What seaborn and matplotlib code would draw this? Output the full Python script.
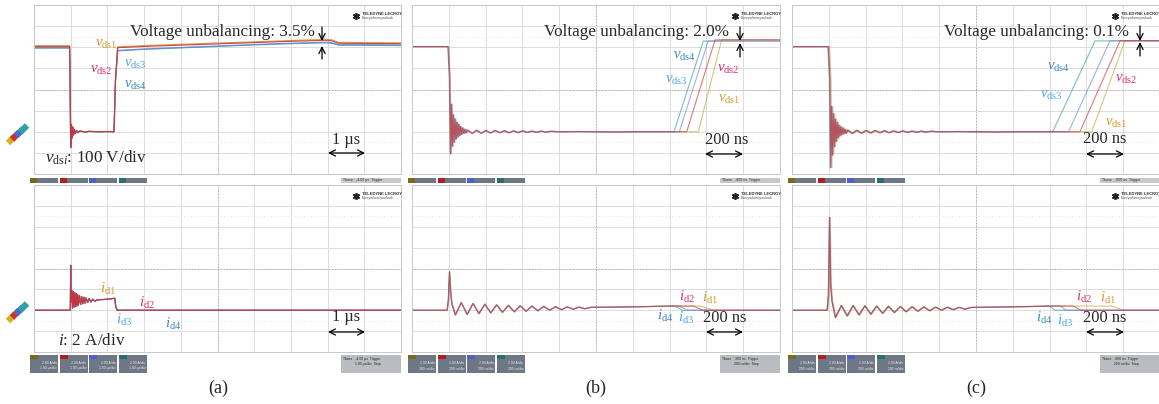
import numpy as np
import pandas as pd
import seaborn as sns
import matplotlib.pyplot as plt
from matplotlib.patches import Rectangle

sns.set_style('white')
plt.rcParams['font.family'] = ['Liberation Serif', 'DejaVu Serif']
plt.rcParams['mathtext.fontset'] = 'custom'
plt.rcParams['mathtext.rm'] = 'Liberation Serif'
plt.rcParams['mathtext.it'] = 'Liberation Serif:italic'
plt.rcParams['mathtext.bf'] = 'Liberation Serif:bold'

W, H = 1159, 404
CHANNELS = ['ch1', 'ch2', 'ch3', 'ch4']

# ---------------- (a) 1 us/div, 100 V/div, 2 A/div ----------------
a_vds_pre = {'ch1': 408, 'ch2': 403, 'ch3': 398, 'ch4': 396}
a_ring_t = [0.98, 1.00, 1.02, 1.04, 1.06, 1.08, 1.10, 1.13, 1.16, 1.20, 1.25, 1.30, 1.40, 1.50, 1.60, 1.80, 2.00, 2.18]
a_ring_v = [300, -75, 35, -30, 22, -15, 10, -8, 6, -4, 3, 2, -2, 2, 1, 0, 1, 0]
a_rise_t = [2.22, 2.28, 3.0, 4.0, 5.0, 6.0, 7.0, 7.95, 8.10, 8.30, 9.0, 10.0]
a_rise_v = {
    'ch1': [250, 402, 408, 414, 420, 426, 432, 438, 436, 423, 422, 421],
    'ch2': [245, 398, 404, 410, 416, 422, 428, 433, 431, 419, 418, 417],
    'ch3': [240, 385, 392, 399, 406, 413, 419, 424, 422, 413, 412, 411],
    'ch4': [238, 383, 390, 397, 404, 411, 417, 421, 419, 410, 409, 408],
}
a_id_t = [0, 0.99, 1.00, 1.01, 1.03, 1.05, 1.07, 1.09, 1.11, 1.13, 1.15, 1.17, 1.19, 1.21,
          1.24, 1.27, 1.30, 1.33, 1.36, 1.39, 1.42, 1.46, 1.50, 1.55, 1.60, 1.66, 1.72,
          1.90, 2.10, 2.20, 2.23, 2.27, 10.0]
a_id_v = [0, 0, 4.3, 0.8, 1.9, 0.2, 1.8, 0.3, 1.7, 0.35, 1.6, 0.4, 1.5, 0.5,
          1.4, 0.55, 1.3, 0.62, 1.25, 0.68, 1.18, 0.74, 1.12, 0.8, 1.06, 0.86, 1.0,
          1.03, 1.1, 1.15, 0.3, 0, 0]

# ---------------- (b) and (c) 200 ns/div ----------------
bc_ring_t = [195, 203, 208, 213, 218, 223, 228, 233, 238, 243, 248, 253, 258, 263, 268, 274, 280, 286, 292, 300,
             325, 350, 375, 400, 425, 450, 475, 500, 525, 550, 575, 600, 625, 650, 675, 700, 725, 750, 800, 900,
             1000, 1100, 1200, 1300, 1400]
b_ring_v = [403, 250, -105, 130, -70, 80, -50, 60, -35, 45, -25, 35, -18, 25, -12, 18, -8, 12, -6, 8,
            -8, 7, -7, 6, -6, 6, -5, 5, -5, 4, -4, 4, -3, 3, -3, 3, -2, 2, 0, 1,
            0, -1, 0, 0, 0]
c_ring_v = [403, 250, -170, 120, -110, 85, -70, 60, -45, 45, -30, 32, -20, 24, -14, 18, -10, 12, -7, 8,
            -8, 7, -7, 6, -6, 6, -5, 5, -5, 4, -4, 4, -3, 3, -3, 3, -2, 2, 0, 1,
            0, -1, 0, 0, 0]
b_delay = {'ch1': 3, 'ch2': 0, 'ch3': 5, 'ch4': 1.5}     # ns, channel skew at turn-off
c_delay = {'ch1': 9, 'ch2': 2, 'ch3': 4, 'ch4': 0}
b_rise_start = {'ch1': 1556, 'ch2': 1493, 'ch3': 1453, 'ch4': 1424}
b_rise_end = {'ch1': 1683, 'ch2': 1647, 'ch3': 1610, 'ch4': 1583}
b_top = {'ch1': 436, 'ch2': 435, 'ch3': 430, 'ch4': 429}
c_rise_start = {'ch1': 1629, 'ch2': 1565, 'ch3': 1503, 'ch4': 1417}
c_rise_end = {'ch1': 1810, 'ch2': 1783, 'ch3': 1728, 'ch4': 1647}
c_top = {'ch1': 431, 'ch2': 431, 'ch3': 431, 'ch4': 430}

bc_id_t = [0, 190, 197, 203, 209, 216, 235, 267, 299, 331, 363, 395, 427, 459, 491, 523, 555, 587, 619, 651,
           683, 715, 747, 779, 811, 843, 875, 907, 939, 971, 1100, 1200, 1300, 1400]
b_id_v = [0, 0, 1.0, 3.7, 1.8, 0.6, -0.45, 0.73, -0.4, 0.65, -0.32, 0.58, -0.25, 0.52, -0.2, 0.47, -0.15, 0.43, -0.1, 0.4,
          -0.05, 0.37, 0.0, 0.34, 0.05, 0.32, 0.1, 0.3, 0.14, 0.28, 0.3, 0.33, 0.36, 0.4]
c_id_v = [0, 0, 1.5, 8.9, 2.5, 0.9, -0.7, 0.45, -0.55, 0.45, -0.45, 0.42, -0.38, 0.4, -0.3, 0.38, -0.22, 0.36, -0.15, 0.34,
          -0.1, 0.32, -0.05, 0.3, 0.0, 0.29, 0.05, 0.28, 0.1, 0.27, 0.3, 0.33, 0.36, 0.4]
b_tail_start = {'ch1': 1570, 'ch2': 1530, 'ch3': 1450, 'ch4': 1430}
b_tail_end = {'ch1': 1640, 'ch2': 1580, 'ch3': 1500, 'ch4': 1470}
c_tail_start = {'ch1': 1740, 'ch2': 1530, 'ch3': 1460, 'ch4': 1400}
c_tail_end = {'ch1': 1800, 'ch2': 1570, 'ch3': 1490, 'ch4': 1430}

trace_colors = {'ch1': '#b9a43c', 'ch2': '#d42a2a', 'ch3': '#7080e6', 'ch4': '#2f9f8f'}
label_colors = {'ch1': '#d49b2e', 'ch2': '#d8306c', 'ch3': '#4ea4ee', 'ch4': '#3f88c0'}


def frame(tmap, vmap):
    rows = []
    for ch in CHANNELS:
        for t, v in zip(tmap[ch], vmap[ch]):
            rows.append((ch, t, v))
    return pd.DataFrame(rows, columns=['ch', 't', 'v'])


def shifted(ts, d):
    return [t + d for t in ts]


df_a_top = frame({c: [0, 0.97] + a_ring_t + a_rise_t for c in CHANNELS},
                 {c: [a_vds_pre[c]] * 2 + a_ring_v + a_rise_v[c] for c in CHANNELS})
df_a_bot = frame({c: a_id_t for c in CHANNELS}, {c: a_id_v for c in CHANNELS})
df_b_top = frame({c: [0] + shifted(bc_ring_t, b_delay[c]) + [b_rise_start[c], b_rise_end[c], 2000] for c in CHANNELS},
                 {c: [403] + b_ring_v + [0, b_top[c], b_top[c]] for c in CHANNELS})
df_c_top = frame({c: [0] + shifted(bc_ring_t, c_delay[c]) + [c_rise_start[c], c_rise_end[c], 2000] for c in CHANNELS},
                 {c: [403] + c_ring_v + [0, c_top[c], c_top[c]] for c in CHANNELS})
df_b_bot = frame({c: shifted(bc_id_t, b_delay[c] / 2) + [b_tail_start[c], b_tail_end[c], 2000] for c in CHANNELS},
                 {c: b_id_v + [0.4, 0, 0] for c in CHANNELS})
df_c_bot = frame({c: shifted(bc_id_t, c_delay[c] / 2) + [c_tail_start[c], c_tail_end[c], 2000] for c in CHANNELS},
                 {c: c_id_v + [0.4, 0, 0] for c in CHANNELS})

fig = plt.figure(figsize=(W / 100, H / 100), dpi=100)


def px_axes(x0, y0, x1, y1):
    return fig.add_axes([x0 / W, 1 - y1 / H, (x1 - x0) / W, (y1 - y0) / H])


def scope(ax, df, tdiv, ydiv, order, alpha):
    ax.set_xlim(0, 10 * tdiv)
    ax.set_ylim(-2 * ydiv, 6 * ydiv)
    ax.set_xticks(np.arange(11) * tdiv)
    ax.set_yticks(np.arange(-2, 7) * ydiv)
    ax.grid(True, color='#dcdcdc', lw=0.7)
    ax.tick_params(length=0, labelbottom=False, labelleft=False)
    for s in ax.spines.values():
        s.set_color('#c8c8c8')
        s.set_linewidth(0.7)
    ax.axvline(5 * tdiv, color='#a8a8a8', lw=0.7, ls=(0, (1, 2)))
    ax.axhline(2 * ydiv, color='#a8a8a8', lw=0.7, ls=(0, (1, 2)))
    for yy in (-0.5 * ydiv, 4.5 * ydiv):
        ax.axhline(yy, color='#d8d8d8', lw=0.6, ls=(0, (1, 3)))
    sns.lineplot(data=df, x='t', y='v', hue='ch', hue_order=order,
                 palette=trace_colors, estimator=None, sort=False, legend=False,
                 lw=0.85, alpha=alpha, ax=ax)
    ax.set_xlabel('')
    ax.set_ylabel('')


red_top = ['ch1', 'ch4', 'ch3', 'ch2']
mixed = ['ch4', 'ch1', 'ch3', 'ch2']
panels = [
    (34, 401, df_a_top, df_a_bot, 1.0, red_top, 0.85),
    (412, 780, df_b_top, df_b_bot, 200, mixed, 0.6),
    (792, 1160, df_c_top, df_c_bot, 200, mixed, 0.6),
]
for x0, x1, dtop, dbot, tdiv, order, alpha in panels:
    scope(px_axes(x0, 5, x1, 174), dtop, tdiv, 100, order, alpha)
    scope(px_axes(x0, 185, x1, 352), dbot, tdiv, 2, order, alpha)

ov = fig.add_axes([0, 0, 1, 1])
ov.set_xlim(0, W)
ov.set_ylim(H, 0)
ov.axis('off')
ov.patch.set_alpha(0)
ov.set_zorder(10)

tag_colors = ['#7a6a1c', '#b01e1e', '#5060c8', '#2a6e6e']
for x0, x1, _, _, tdiv, _, _ in panels:
    tb = '-4.00 µs' if tdiv == 1.0 else '-800 ns'
    per = '1.00 µs/div' if tdiv == 1.0 else '200 ns/div'
    # status strip under the voltage screen
    for k in range(4):
        bx = x0 - 4 + 29.5 * k
        ov.add_patch(Rectangle((bx, 177.5), 28, 5.5, color='#6e7785', lw=0))
        ov.add_patch(Rectangle((bx, 177.5), 7, 5.5, color=tag_colors[k], lw=0))
    ov.add_patch(Rectangle((x1 - 60, 177.5), 60, 5.5, color='#c9c9c9', lw=0))
    ov.text(x1 - 58, 180.3, f'Tbase   {tb}  Trigger', fontsize=2.6, family='Liberation Sans',
            va='center', color='#333333')
    # bottom descriptor boxes
    for k in range(4):
        bx = x0 - 4 + 29.5 * k
        ov.add_patch(Rectangle((bx, 355), 28, 18, color='#6e7785', lw=0))
        ov.add_patch(Rectangle((bx, 355), 8, 4, color=tag_colors[k], lw=0))
        ov.text(bx + 27, 363, '2.00 A/div', fontsize=2.4, family='Liberation Sans', ha='right',
                va='center', color='#eeeeee')
        ov.text(bx + 27, 368.5, per, fontsize=2.4, family='Liberation Sans', ha='right',
                va='center', color='#eeeeee')
    ov.add_patch(Rectangle((x1 - 60, 355), 60, 18, color='#b9bcc0', lw=0))
    ov.text(x1 - 58, 359, f'Tbase   {tb}  Trigger', fontsize=2.4, family='Liberation Sans',
            va='center', color='#222222')
    ov.text(x1 - 58, 364.5, '            ' + per + '  Stop', fontsize=2.4, family='Liberation Sans',
            va='center', color='#222222')
    # Teledyne LeCroy logo (top and bottom screens)
    for ly in (14, 194):
        ov.plot(x1 - 45, ly + 2, marker=(6, 2, 0), ms=5, color='#222222', mew=1.2)
        ov.text(x1 - 39, ly, 'TELEDYNE LECROY', fontsize=3.0, family='Liberation Sans',
                weight='bold', color='#333333', va='center')
        ov.text(x1 - 39, ly + 4, 'Everywhereyoulook', fontsize=2.6, family='Liberation Sans',
                color='#555555', va='center')

# channel ground markers, panel (a)
for k, c in enumerate(['#d8b020', '#d03030', '#4070d0', '#30a0a0']):
    for yb in (143, 321):
        ov.plot([8 + 4 * k, 15 + 4 * k], [yb - 3.5 * k, yb - 3.5 * k - 7], lw=4.5, color=c,
                solid_capstyle='butt')

TXT = 12.3
SCL = 11.8
LBL = 10.8


def vlab(x, y, ch, s):
    ov.text(x, y, s, color=label_colors[ch], fontsize=LBL, va='center', ha='left')


def scale_arrow(x0, x1, y):
    ov.annotate('', xy=(x0, y), xytext=(x1, y),
                arrowprops=dict(arrowstyle='<->', lw=0.9, color='black', mutation_scale=11,
                                shrinkA=0, shrinkB=0))


def unbal(x, yd0, yd1, yu0, yu1):
    for a, b in ((yd0, yd1), (yu0, yu1)):
        ov.annotate('', xy=(x, b), xytext=(x, a),
                    arrowprops=dict(arrowstyle='->', lw=0.9, color='black', mutation_scale=11,
                                    shrinkA=0, shrinkB=0))


# ---- (a)
ov.text(130, 32, 'Voltage unbalancing: 3.5%', fontsize=TXT, va='center')
unbal(322, 27, 41, 59, 46)
vlab(95, 44, 'ch1', r'$v_{\mathrm{ds1}}$')
vlab(90, 70, 'ch2', r'$v_{\mathrm{ds2}}$')
vlab(124, 64, 'ch3', r'$v_{\mathrm{ds3}}$')
vlab(124, 85, 'ch4', r'$v_{\mathrm{ds4}}$')
ov.text(45, 158, r'$v_{\mathrm{ds}i}$: 100 V/div', fontsize=TXT, va='center')
ov.text(332, 140, '1 µs', fontsize=SCL, va='center')
scale_arrow(328, 365, 153)
vlab(100, 289, 'ch1', r'$i_{\mathrm{d1}}$')
vlab(139, 303, 'ch2', r'$i_{\mathrm{d2}}$')
vlab(116, 320, 'ch3', r'$i_{\mathrm{d3}}$')
vlab(165, 324, 'ch4', r'$i_{\mathrm{d4}}$')
ov.text(58, 341, r'$i$: 2 A/div', fontsize=TXT, va='center')
ov.text(332, 317, '1 µs', fontsize=SCL, va='center')
scale_arrow(328, 365, 332)
ov.text(218, 388, '(a)', fontsize=13, ha='center', va='center')

# ---- (b)
ov.text(544, 32, 'Voltage unbalancing: 2.0%', fontsize=TXT, va='center')
unbal(740, 27, 41, 57, 43)
vlab(673, 56, 'ch4', r'$v_{\mathrm{ds4}}$')
vlab(665, 80, 'ch3', r'$v_{\mathrm{ds3}}$')
vlab(717, 69, 'ch2', r'$v_{\mathrm{ds2}}$')
vlab(718, 99, 'ch1', r'$v_{\mathrm{ds1}}$')
ov.text(705, 140, '200 ns', fontsize=SCL, va='center')
scale_arrow(705, 743, 154)
vlab(679, 297, 'ch2', r'$i_{\mathrm{d2}}$')
vlab(702, 298, 'ch1', r'$i_{\mathrm{d1}}$')
vlab(657, 316, 'ch4', r'$i_{\mathrm{d4}}$')
vlab(678, 318, 'ch3', r'$i_{\mathrm{d3}}$')
ov.text(703, 318, '200 ns', fontsize=SCL, va='center')
scale_arrow(706, 743, 332)
ov.text(596, 388, '(b)', fontsize=13, ha='center', va='center')

# ---- (c)
ov.text(944, 32, 'Voltage unbalancing: 0.1%', fontsize=TXT, va='center')
unbal(1140, 26, 41, 56, 42)
vlab(1047, 67, 'ch4', r'$v_{\mathrm{ds4}}$')
vlab(1040, 95, 'ch3', r'$v_{\mathrm{ds3}}$')
vlab(1115, 79, 'ch2', r'$v_{\mathrm{ds2}}$')
vlab(1105, 123, 'ch1', r'$v_{\mathrm{ds1}}$')
ov.text(1083, 139, '200 ns', fontsize=SCL, va='center')
scale_arrow(1086, 1124, 154)
vlab(1076, 297, 'ch2', r'$i_{\mathrm{d2}}$')
vlab(1100, 298, 'ch1', r'$i_{\mathrm{d1}}$')
vlab(1036, 318, 'ch4', r'$i_{\mathrm{d4}}$')
vlab(1057, 321, 'ch3', r'$i_{\mathrm{d3}}$')
ov.text(1083, 318, '200 ns', fontsize=SCL, va='center')
scale_arrow(1086, 1124, 332)
ov.text(976, 388, '(c)', fontsize=13, ha='center', va='center')

fig.savefig('out.png', dpi=100)
